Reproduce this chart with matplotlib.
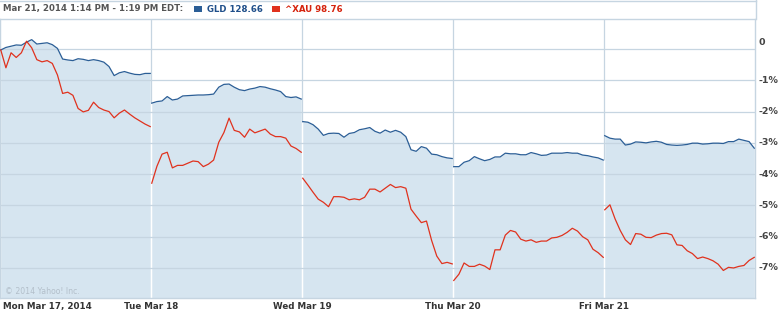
import numpy as np
import matplotlib
matplotlib.use("Agg")
import matplotlib.pyplot as plt
from matplotlib.lines import Line2D
from matplotlib.patches import Rectangle

# labels
day_labels = ["Mon Mar 17, 2014", "Tue Mar 18", "Wed Mar 19", "Thu Mar 20", "Fri Mar 21"]
pct_ticks = [0, -1, -2, -3, -4, -5, -6, -7]
pct_labels = ["0", "-1%", "-2%", "-3%", "-4%", "-5%", "-6%", "-7%"]

# % change from Monday open, sampled evenly through each session
gld_mon = [-0.03, 0.05, 0.09, 0.13, 0.12, 0.22, 0.30, 0.16, 0.18, 0.20,
           0.14, 0.02, -0.32, -0.35, -0.37, -0.31, -0.33, -0.37, -0.34, -0.37,
           -0.42, -0.56, -0.85, -0.76, -0.72, -0.77, -0.81, -0.82, -0.78, -0.78]
xau_mon = [-0.03, -0.60, -0.12, -0.27, -0.12, 0.25, 0.04, -0.34, -0.41, -0.37,
           -0.46, -0.83, -1.42, -1.38, -1.48, -1.90, -2.01, -1.96, -1.70, -1.87,
           -1.95, -2.00, -2.20, -2.05, -1.95, -2.08, -2.20, -2.30, -2.40, -2.48]

gld_tue = [-1.73, -1.68, -1.66, -1.52, -1.63, -1.60, -1.50, -1.49, -1.48, -1.47,
           -1.47, -1.46, -1.44, -1.22, -1.13, -1.12, -1.22, -1.30, -1.33, -1.28,
           -1.25, -1.20, -1.22, -1.27, -1.31, -1.36, -1.52, -1.55, -1.53, -1.60]
xau_tue = [-4.29, -3.75, -3.36, -3.30, -3.80, -3.72, -3.72, -3.65, -3.58, -3.60,
           -3.76, -3.68, -3.55, -2.98, -2.67, -2.21, -2.60, -2.65, -2.82, -2.56,
           -2.68, -2.62, -2.56, -2.72, -2.80, -2.80, -2.85, -3.10, -3.18, -3.30]

gld_wed = [-2.32, -2.34, -2.42, -2.56, -2.76, -2.70, -2.69, -2.70, -2.82, -2.70,
           -2.67, -2.58, -2.55, -2.51, -2.63, -2.69, -2.59, -2.66, -2.60, -2.66,
           -2.80, -3.22, -3.27, -3.12, -3.17, -3.36, -3.38, -3.44, -3.48, -3.50]
xau_wed = [-4.13, -4.35, -4.58, -4.80, -4.90, -5.04, -4.72, -4.72, -4.74, -4.82,
           -4.79, -4.82, -4.74, -4.48, -4.48, -4.57, -4.45, -4.33, -4.43, -4.40,
           -4.45, -5.12, -5.34, -5.55, -5.50, -6.12, -6.62, -6.86, -6.82, -6.87]

gld_thu = [-3.76, -3.76, -3.62, -3.57, -3.44, -3.51, -3.57, -3.53, -3.45, -3.45,
           -3.33, -3.35, -3.35, -3.38, -3.38, -3.31, -3.35, -3.40, -3.39, -3.33,
           -3.33, -3.33, -3.31, -3.33, -3.33, -3.39, -3.41, -3.45, -3.48, -3.55]
xau_thu = [-7.40, -7.20, -6.84, -6.95, -6.95, -6.88, -6.94, -7.05, -6.42, -6.42,
           -5.95, -5.80, -5.85, -6.08, -6.14, -6.10, -6.18, -6.14, -6.14, -6.04,
           -6.02, -5.96, -5.86, -5.73, -5.82, -6.00, -6.10, -6.40, -6.51, -6.66]

gld_fri = [-2.77, -2.85, -2.88, -2.88, -3.07, -3.04, -2.97, -2.98, -3.00, -2.97,
           -2.95, -2.98, -3.05, -3.07, -3.08, -3.07, -3.05, -3.01, -3.01, -3.04,
           -3.03, -3.01, -3.01, -3.02, -2.96, -2.96, -2.88, -2.92, -2.96, -3.17]
xau_fri = [-5.14, -4.98, -5.43, -5.80, -6.10, -6.25, -5.90, -5.92, -6.02, -6.03,
           -5.95, -5.90, -5.89, -5.94, -6.26, -6.28, -6.45, -6.54, -6.70, -6.65,
           -6.70, -6.77, -6.88, -7.08, -6.98, -7.00, -6.95, -6.92, -6.76, -6.66]

gld_days = [gld_mon, gld_tue, gld_wed, gld_thu, gld_fri]
xau_days = [xau_mon, xau_tue, xau_wed, xau_thu, xau_fri]

blue = "#2b5e96"
red = "#e0321e"
fill = "#d6e5f0"
grid = "#c6d5e1"

W, H = 784, 314
fig = plt.figure(figsize=(W / 100, H / 100), dpi=100)
ax = fig.add_axes([0, (H - 298) / H, 755 / W, (298 - 19) / H])
ymin, ymax = -7.96, 0.96

for k, (g, a) in enumerate(zip(gld_days, xau_days)):
    x = np.linspace(k + 0.005, k + 0.995, len(g))
    ax.fill_between(x, g, ymin - 1, color=fill, lw=0, zorder=1)
    ax.plot(x, g, color=blue, lw=0.9, zorder=3)
    ax.plot(x, a, color=red, lw=0.9, zorder=3)

# day separators: grey where the area is not filled on both sides
for k in range(1, 5):
    low = min(gld_days[k - 1][-1], gld_days[k][0])
    ax.vlines(k, low, ymax, color=grid, lw=0.9, zorder=0.5)

for v in pct_ticks:
    ax.axhline(v, color=grid, lw=0.9, zorder=1.5)

ax.set_xlim(0, 5)
ax.set_ylim(ymin, ymax)
ax.set_xticks([])
ax.set_yticks([])
for s in ax.spines.values():
    s.set_color(grid)
    s.set_linewidth(1)

ytr = ax.get_yaxis_transform()
for v, lab in zip(pct_ticks, pct_labels):
    off = 0.22 if v == 0 else 0
    ax.text(1.005, v + off, lab, transform=ytr, ha="left", va="center",
            fontsize=6.8, fontweight="bold", color="#444444")

xtr = ax.get_xaxis_transform()
for k, lab in enumerate(day_labels):
    if k == 0:
        ax.text(0.02, -0.031, lab, transform=xtr, ha="left", va="center",
                fontsize=6.3, fontweight="bold", color="#333333")
    else:
        ax.text(k, -0.031, lab, transform=xtr, ha="center", va="center",
                fontsize=6.3, fontweight="bold", color="#333333")

ax.text(5 / 755, 0.023, "\u00a9 2014 Yahoo! Inc.", transform=ax.transAxes,
        ha="left", va="center", fontsize=5.6, color="#b3bfca")

# header strip
fig.add_artist(Line2D([0, 755.5 / W], [1 - 0.5 / H] * 2, color=grid, lw=1))
fig.add_artist(Line2D([755.5 / W] * 2, [1, 1 - 19 / H], color=grid, lw=1))
ty = 1 - 9 / H
fig.text(3 / W, ty, "Mar 21, 2014 1:14 PM - 1:19 PM EDT:", ha="left", va="center",
         fontsize=6.2, fontweight="bold", color="#555555")
fig.add_artist(Rectangle((194 / W, 1 - 12 / H), 8 / W, 6 / H, color=blue, lw=0))
fig.text(207 / W, ty, "GLD 128.66", ha="left", va="center",
         fontsize=6.2, fontweight="bold", color="#1f4f8a")
fig.add_artist(Rectangle((272 / W, 1 - 12 / H), 8 / W, 6 / H, color=red, lw=0))
fig.text(285 / W, ty, "^XAU 98.76", ha="left", va="center",
         fontsize=6.2, fontweight="bold", color="#d6230d")

fig.savefig("out.png", dpi=100)
